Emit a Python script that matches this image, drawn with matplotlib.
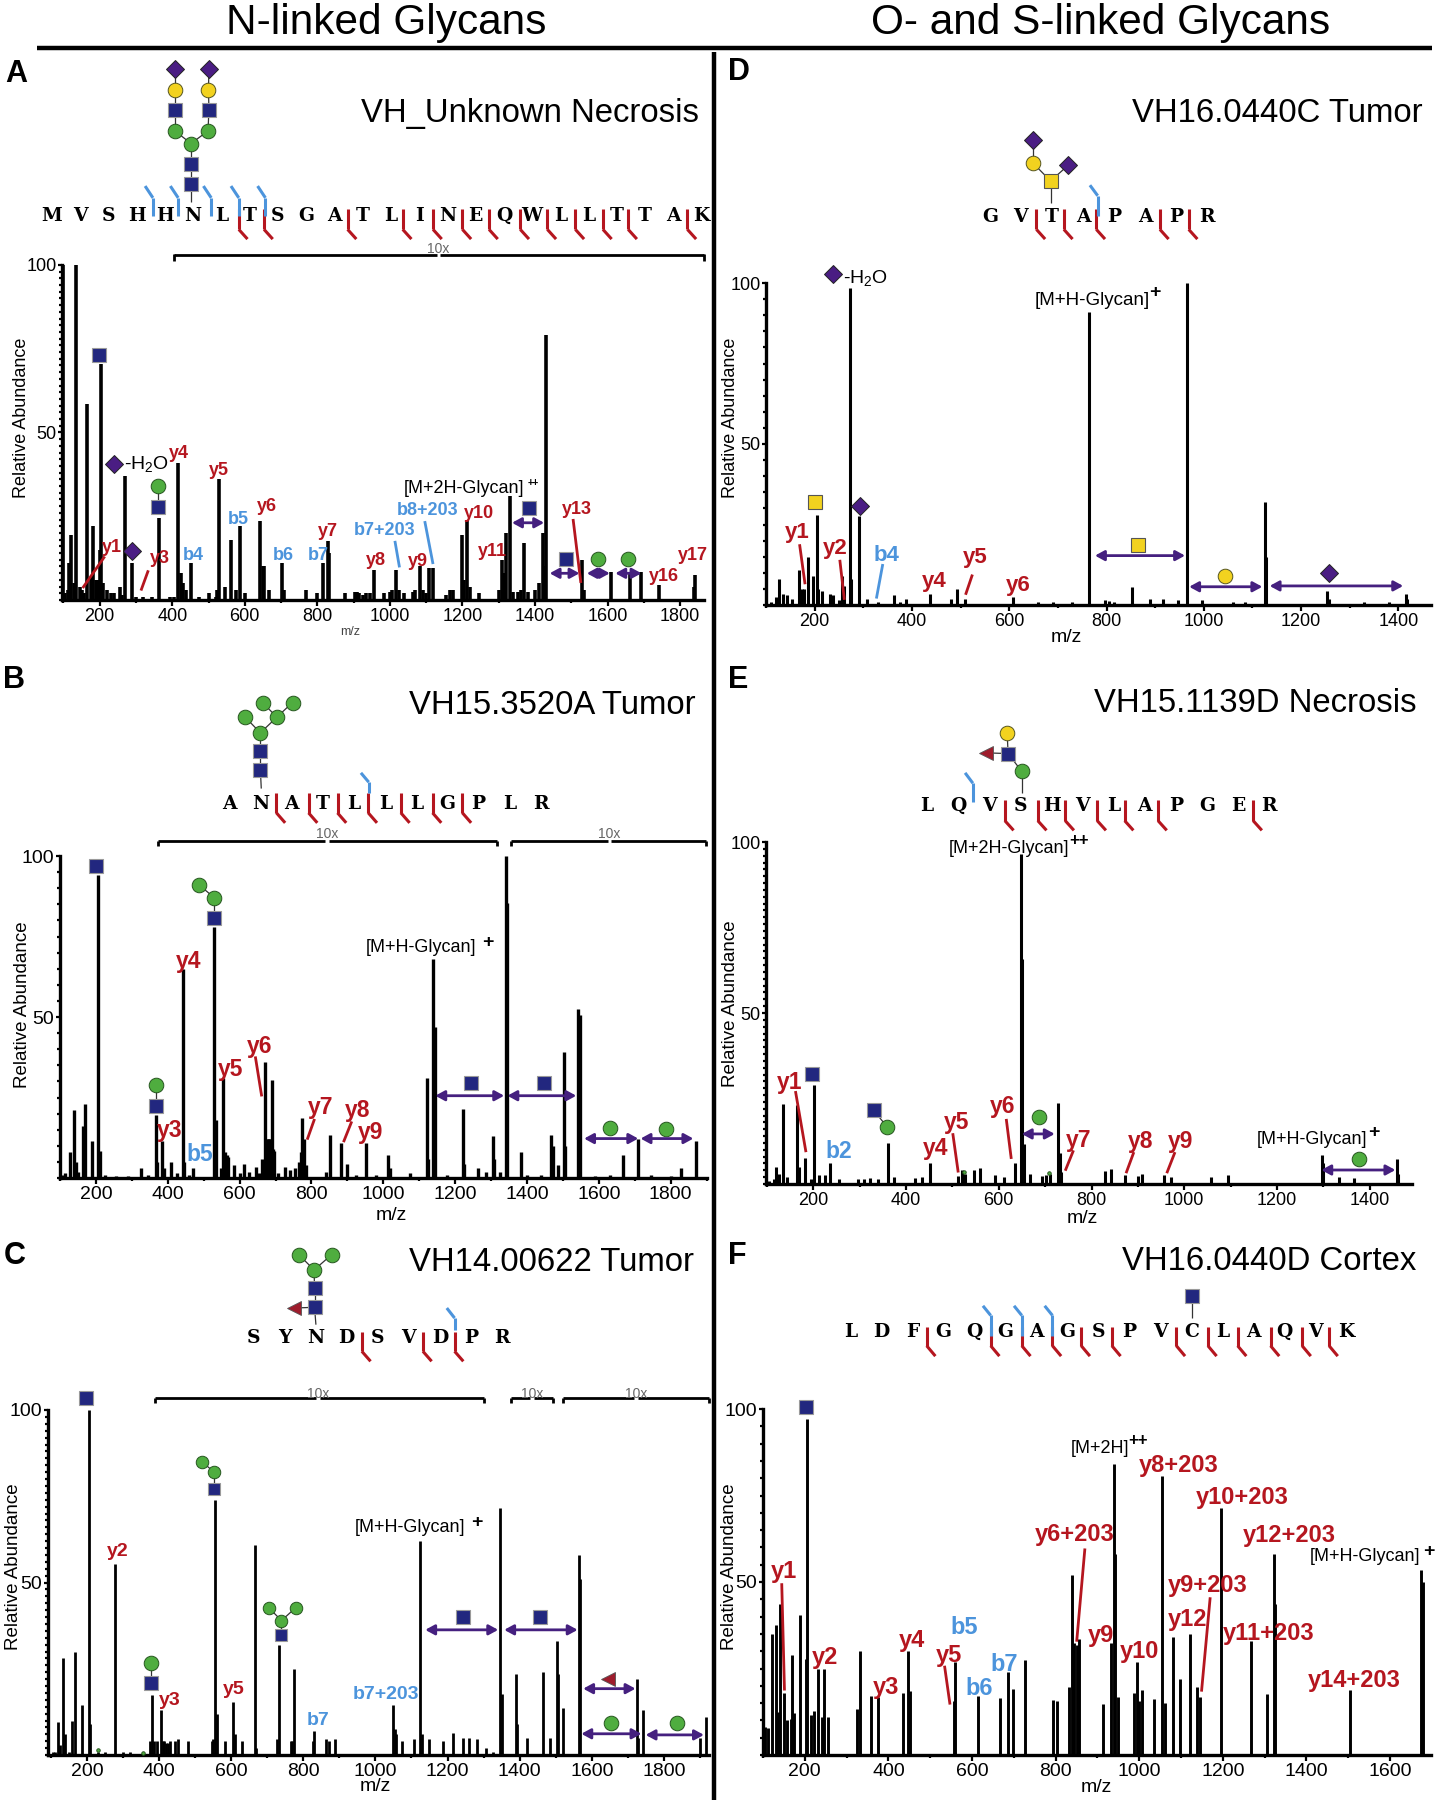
import matplotlib
matplotlib.use('Agg')
import matplotlib.pyplot as plt

plt.rcParams['font.family'] = ['Liberation Sans', 'DejaVu Sans']
plt.rcParams['mathtext.fontset'] = 'custom'
plt.rcParams['mathtext.rm'] = 'Liberation Sans'
plt.rcParams['mathtext.default'] = 'rm'

# peaks: m/z and relative abundance
mz_a = [99, 105, 112, 115, 122, 128, 135, 145, 150, 158, 166, 175, 182, 190, 195, 200, 204, 210, 220, 232, 240, 255, 262, 271, 290,
        300, 320, 345, 363, 395, 405, 417, 423, 430, 437, 453, 475, 500, 520, 524, 529, 545, 562, 575, 587, 600, 643, 650, 654, 668,
        702, 708, 770, 800, 816, 829, 833, 875, 905, 910, 915, 925, 935, 945, 956, 985, 1000, 1005, 1018, 1025, 1040, 1065, 1070,
        1084, 1090, 1100, 1107, 1118, 1155, 1165, 1175, 1199, 1205, 1213, 1220, 1245, 1300, 1310, 1315, 1321, 1330, 1340, 1352, 1362,
        1370, 1380, 1400, 1410, 1422, 1428, 1431, 1530, 1535, 1610, 1661, 1693, 1742, 1842, 1838]
int_a = [100, 2, 3, 11, 19.5, 5, 100, 4, 3, 2, 58.5, 7, 22, 6, 6, 15, 70.5, 5, 3, 2, 2, 4, 1.5, 37, 11,
         1, 1, 1, 24.5, 1, 1, 41, 8, 5, 3, 11, 1, 2, 1, 3, 36, 4, 18, 3, 22, 2, 23.5, 10, 10, 3,
         11, 3, 3, 2, 11, 17.5, 14, 2, 2.5, 2.5, 2, 1.5, 2, 2, 9, 2, 2.5, 3, 9, 3, 2, 2.5, 3,
         10, 3, 2, 9.5, 9.5, 1.5, 3, 3, 19.5, 6, 24, 4, 2, 3, 12, 8, 20, 31, 2.5, 2.5, 3,
         17, 2.5, 3, 5, 20, 10, 79, 12, 3, 8.5, 8.5, 8.5, 4.5, 7.5, 4]

mz_b = [105, 115, 127, 139, 145, 150, 164, 169, 188, 205, 210, 225, 255, 290, 325, 345, 367, 371, 385, 390, 410, 425, 443, 445, 460, 471,
        530, 534, 548, 555, 558, 565, 569, 583, 600, 611, 625, 646, 655, 663, 672, 675, 678, 681, 684, 687, 690, 693, 697, 708, 726, 739,
        755, 765, 770, 774, 777, 780, 785, 840, 852, 882, 900, 925, 953, 980, 1014, 1018, 1075, 1121, 1125, 1138, 1143, 1178, 1221, 1224,
        1264, 1285, 1305, 1308, 1325, 1341, 1345, 1383, 1400, 1440, 1468, 1471, 1486, 1503, 1506, 1543, 1547, 1590, 1630, 1667, 1708, 1745, 1800, 1828, 1869]
int_b = [1, 1.5, 8, 21, 5, 2, 16, 23, 11.5, 94, 8.5, 1, 0.7, 0.5, 3, 1, 19.5, 5, 11.5, 3, 5, 1.5, 65, 5, 1, 3,
         78, 18, 3, 31, 8, 7, 6.5, 4, 1.5, 4.5, 2, 3.5, 1.5, 6, 36, 12, 12, 12, 12, 10, 30.5, 9, 8.5, 1.5, 3.5, 2.5,
         3, 5, 8, 18.5, 10, 12, 4, 2, 13.5, 11, 4.5, 1, 11, 1, 7, 3, 1.5, 31, 6, 68, 47, 1, 21.5, 4.5,
         3, 2, 13, 6, 2, 100, 85.5, 8, 1, 1, 13.5, 10, 4, 39, 10, 52.5, 50.5, 0.5, 0.8, 7, 12, 0.8, 0.5, 3, 11.5]

mz_c = [105, 112, 120, 126, 134, 140, 150, 159, 167, 185, 206, 209, 230, 250, 279, 300, 320, 375, 381, 387, 395, 404, 410, 415, 420, 425, 430, 445, 452, 480,
        546, 550, 556, 560, 582, 605, 610, 629, 666, 670, 728, 732, 765, 770, 774, 828, 831, 864, 872, 887, 1050, 1053, 1056, 1075, 1106, 1124, 1128,
        1148, 1188, 1216, 1244, 1259, 1282, 1307, 1325, 1346, 1350, 1390, 1393, 1421, 1465, 1484, 1504, 1507, 1521, 1565, 1568, 1725, 1729, 1743, 1899, 1918]
int_c = [1, 1, 9.5, 3, 28, 6, 1, 10, 30, 14.5, 100, 9, 1, 0.8, 55.5, 1, 1, 4, 17.5, 4, 4, 13, 4, 4, 3.5, 3.5, 4, 4, 4.5, 4,
         4, 4.5, 74, 12, 4, 15.5, 6, 4, 61, 2, 4.5, 32, 4, 4, 25, 4, 7, 4.5, 4, 4.5, 14.5, 7.5, 6, 4, 4.5, 62, 6,
         4.5, 4, 6.5, 5, 5, 4.5, 2, 1, 71.5, 17.7, 23.5, 9, 5, 24, 5, 33, 23.5, 13.5, 58, 51, 22, 5, 13, 5, 11]

mz_d = [110, 120, 126, 134, 144, 154, 167, 174, 179, 186, 197, 204, 207, 215, 231, 237, 250, 256, 261, 272, 275, 291, 308, 330, 364, 375, 387, 438,
        480, 493, 510, 608, 660, 690, 730, 764, 796, 805, 815, 853, 890, 916, 946, 966, 996, 1060, 1085, 1125, 1128, 1254, 1257, 1330, 1380, 1415, 1418]
int_d = [1, 2.5, 8, 3.5, 3, 2, 11, 5, 5, 15, 9, 28, 5, 4.5, 3.5, 3, 1.5, 9, 6, 98.5, 8, 27.5, 2, 1, 3, 1, 2, 3.5,
         2, 5, 2, 2.5, 1, 1, 1, 91, 1.5, 1.2, 1, 5.5, 2, 2, 1.5, 100, 1.5, 1, 1, 32, 15, 4.5, 2, 1, 1, 3.5, 2]

mz_e = [105, 115, 120, 125, 135, 143, 164, 170, 182, 195, 201, 212, 225, 236, 256, 296, 310, 322, 340, 362, 375, 419, 435, 451, 513, 520, 527, 547, 560,
        592, 611, 636, 647, 650, 654, 668, 693, 702, 710, 728, 731, 735, 829, 841, 873, 900, 908, 957, 971, 1057, 1095, 1297, 1300, 1333, 1366, 1458, 1461]
int_e = [1, 1.5, 5, 3, 23.5, 2, 23, 5, 7.5, 1.5, 29, 2.5, 2.5, 6, 1.5, 1.5, 1.5, 1.8, 1.5, 12, 2, 1.8, 2, 6, 2.3, 4, 2.8, 4, 4.7,
         2.6, 2, 6, 96.5, 65.7, 11.7, 3, 2.2, 2.6, 3, 23.7, 9, 3.5, 3.7, 4.3, 2.7, 2.3, 3, 2.7, 2, 2, 2.7, 8.4, 6, 2, 1.8, 7.2, 3]

mz_f = [105, 113, 122, 131, 137, 141, 150, 158, 166, 170, 175, 188, 202, 205, 215, 222, 231, 240, 247, 256, 324, 333, 358, 375, 434, 446, 451, 557, 560,
        615, 668, 686, 698, 727, 794, 804, 831, 840, 844, 852, 857, 914, 932, 939, 942, 949, 988, 995, 1000, 1007, 1035, 1054, 1062, 1081, 1097, 1121,
        1139, 1145, 1195, 1267, 1305, 1322, 1325, 1505, 1675, 1678]
int_f = [8, 7.7, 35, 37.5, 12.5, 43.6, 18, 10, 10.5, 29, 12, 40.5, 27.7, 97, 11.6, 12.8, 25, 11, 25, 11, 13.3, 30, 17, 16.8, 17.8, 30, 18.6, 15.7, 27,
         17, 16.5, 24, 19, 27.4, 16, 15.5, 19.7, 52, 32.5, 31.7, 33.6, 14.8, 32.5, 84, 58, 16.8, 17.8, 27, 15.5, 18.7, 16.2, 80.6, 15, 34, 22, 35,
         19.6, 16.8, 71.4, 33, 17.5, 58, 43.6, 18.7, 53.4, 50]

peptides = {
    'A': 'MVSHHNLTSGATLINEQWLLTTAK',
    'B': 'ANATLLLGPLR',
    'C': 'SYNDSVDPR',
    'D': 'GVTAPAPR',
    'E': 'LQVSHVLAPGER',
    'F': 'LDFGQGAGSPVCLAQVK',
}
titles = {
    'A': 'VH_Unknown Necrosis',
    'B': 'VH15.3520A Tumor',
    'C': 'VH14.00622 Tumor',
    'D': 'VH16.0440C Tumor',
    'E': 'VH15.1139D Necrosis',
    'F': 'VH16.0440D Cortex',
}

RED = '#b5161f'
BLUE = '#4c94dc'
PURPLE = '#45207f'
NAVY = '#22277f'
GREEN = '#4fad3f'
GOLD = '#f2d21f'
DIAM = '#4a1d83'
FUC = '#9e1c2c'

# crop windows used for reading the layout: x0, y0, w, h (grid 1568 on both sides)
windows = {
    'A': (0, 0, 720, 660),
    'D': (720, 0, 717, 660),
    'B': (0, 660, 720, 560),
    'E': (720, 660, 717, 560),
    'C': (0, 1220, 720, 580),
    'F': (720, 1220, 717, 580),
}


def Z(p, x, y):
    x0, y0, w, h = windows[p]
    return x0 + x * w / 1568, y0 + y * h / 1568


fig = plt.figure(figsize=(14.37, 18), dpi=100)
W, H = 1437, 1800


def spec(mz, ints, left, right, top, bottom, xlim, major, minor_y, lw, tick_fs, xmax_tick):
    ax = fig.add_axes([left / W, 1 - bottom / H, (right - left) / W, (bottom - top) / H])
    ax.vlines(mz, 0, ints, color='k', lw=lw)
    ax.set_xlim(xlim)
    ax.set_ylim(0, 100)
    for s in ['top', 'right']:
        ax.spines[s].set_visible(False)
    ax.spines['left'].set_linewidth(2.4)
    ax.spines['bottom'].set_linewidth(2.4)
    ax.set_xticks(list(range(major, xmax_tick + 1, major)))
    ax.set_xticks(list(range(100, int(xlim[1]), 100)), minor=True)
    ax.set_yticks([50, 100])
    ax.set_yticks(list(range(0, 101, minor_y)), minor=True)
    ax.tick_params(axis='x', which='major', length=4, width=1.6, labelsize=tick_fs, pad=1.5)
    ax.tick_params(axis='y', which='major', length=3, width=1.6, labelsize=tick_fs, pad=1)
    ax.tick_params(axis='both', which='minor', length=2.5, width=1.6)
    ax.patch.set_alpha(0)
    return ax


spec(mz_a, int_a, 62, 704, 265, 600, (96, 1866), 200, 2, 2.6, 13, 1800)
spec(mz_b, int_b, 60, 707, 856, 1178, (100, 1901), 200, 5, 2.4, 14, 1800)
spec(mz_c, int_c, 48, 709, 1410, 1755, (92, 1925), 200, 2, 2.0, 14, 1800)
spec(mz_d, int_d, 766, 1431, 283, 605, (101, 1467), 200, 5, 2.2, 13, 1400)
spec(mz_e, int_e, 766, 1412, 842, 1184, (98, 1491), 200, 2, 2.2, 13, 1400)
spec(mz_f, int_f, 763, 1431, 1409, 1755, (102, 1698), 200, 5, 2.1, 14, 1600)

ov = fig.add_axes([0, 0, 1, 1], zorder=10)
ov.set_xlim(0, W)
ov.set_ylim(H, 0)
ov.axis('off')
ov.patch.set_alpha(0)

# headers and dividers
ov.text(386, 23, 'N-linked Glycans', fontsize=30.5, ha='center', va='center')
ov.text(1101, 23, 'O- and S-linked Glycans', fontsize=30.5, ha='center', va='center')
ov.plot([37, 1432], [48, 48], color='k', lw=3.2, solid_capstyle='butt')
ov.plot([714, 714], [52, 1800], color='k', lw=3.2, solid_capstyle='butt')


def seg(p, x1, y1, x2, y2, color='k', lw=2.0, z=3):
    a = Z(p, x1, y1)
    b = Z(p, x2, y2)
    ov.plot([a[0], b[0]], [a[1], b[1]], color=color, lw=lw, zorder=z, solid_capstyle='butt')


def put(p, s, x, y, color='k', fs=13, bold=False, **kw):
    a = Z(p, x, y)
    ov.text(a[0], a[1] + 1.5, s, color=color, fontsize=fs, ha=kw.pop('ha', 'center'), va='center',
            fontweight='bold' if bold else 'normal', zorder=6, **kw)


def sym(p, kind, x, y, ms=10.5):
    a = Z(p, x, y)
    if kind == 'sq':
        ov.plot(a[0], a[1], 's', ms=ms - 0.5, mfc=NAVY, mec='#9a9a9a', mew=0.8, zorder=5)
    elif kind == 'ysq':
        ov.plot(a[0], a[1], 's', ms=ms - 0.5, mfc=GOLD, mec='#555555', mew=0.8, zorder=5)
    elif kind == 'g':
        ov.plot(a[0], a[1], 'o', ms=ms, mfc=GREEN, mec='#26561f', mew=0.7, zorder=5)
    elif kind == 'y':
        ov.plot(a[0], a[1], 'o', ms=ms, mfc=GOLD, mec='#555520', mew=0.7, zorder=5)
    elif kind == 'd':
        ov.plot(a[0], a[1], 'D', ms=ms - 1.5, mfc=DIAM, mec='#222222', mew=0.7, zorder=5)
    elif kind == 't':
        ov.plot(a[0], a[1], '<', ms=ms, mfc=FUC, mec='#555555', mew=0.6, zorder=5)


def tree(p, nodes, links, ms=10.5):
    for i, j in links:
        seg(p, nodes[i][1], nodes[i][2], nodes[j][1], nodes[j][2], color='#333333', lw=0.9, z=4)
    for k, x, y in nodes:
        sym(p, k, x, y, ms)


def arrow(p, x1, x2, y):
    a = Z(p, x1, y)
    b = Z(p, x2, y)
    ov.annotate('', xy=b, xytext=a, zorder=5,
                arrowprops=dict(arrowstyle='<|-|>,head_width=0.3,head_length=0.55', color=PURPLE, lw=2.0,
                                shrinkA=0, shrinkB=0))


def bracket(p, x1, x2, y, mid, ty):
    seg(p, x1, y, mid - 4, y, lw=2.0)
    seg(p, mid + 4, y, x2, y, lw=2.0)
    seg(p, x1, y - 1, x1, y + 14, lw=2.0)
    seg(p, x2, y - 1, x2, y + 14, lw=2.0)
    put(p, '10x', mid, ty, color='#666666', fs=10)


def sequence(p, first, last, y, red, blue, r_top, r_mid, r_bot, b_top, b_bot, b_kink):
    s = peptides[p]
    step = (last - first) / (len(s) - 1)
    for i, c in enumerate(s):
        put(p, c, first + i * step, y, fs=13.5, bold=True, family='DejaVu Serif')
    for x in red:
        seg(p, x, r_top, x, r_mid, color=RED, lw=2.2)
        seg(p, x, r_mid, x + 19, r_bot, color=RED, lw=2.2)
    for x in blue:
        seg(p, x, b_bot, x, b_kink, color=BLUE, lw=2.2)
        seg(p, x, b_kink, x - 17, b_top, color=BLUE, lw=2.2)


# panel letters and titles
for p, x, y in [('A', 35, 172), ('D', 41, 168), ('B', 30, 52), ('E', 39, 52), ('C', 32, 92), ('F', 37, 92)]:
    put(p, p, x, y, fs=22, bold=True)
for p, x, y in [('A', 1523, 266), ('D', 1536, 266), ('B', 1515, 122), ('E', 1523, 118), ('C', 1512, 110), ('F', 1522, 108)]:
    put(p, titles[p], x, y, fs=23.7, ha='right')

# axis labels
put('A', 'Relative Abundance', 46, 990, fs=13, rotation=90)
put('B', 'Relative Abundance', 50, 960, fs=13.5, rotation=90)
put('C', 'Relative Abundance', 30, 932, fs=13.5, rotation=90)
put('D', 'Relative Abundance', 22, 990, fs=13, rotation=90)
put('E', 'Relative Abundance', 24, 958, fs=13.5, rotation=90)
put('F', 'Relative Abundance', 20, 932, fs=13.5, rotation=90)
put('A', 'm/z', 763, 1497, fs=9, color='#444444')
put('B', 'm/z', 852, 1550, fs=14)
put('C', 'm/z', 817, 1527, fs=14)
put('D', 'm/z', 757, 1510, fs=14)
put('E', 'm/z', 793, 1560, fs=14)
put('F', 'm/z', 822, 1530, fs=14)

# sequences with fragment marks
sequence('A', 113, 1528, 510, [520, 575, 757, 877, 943, 1007, 1065, 1133, 1192, 1253, 1313, 1368, 1497], [333, 388, 460, 520, 578],
         497, 545, 568, 442, 512, 470)
sequence('D', 590, 1065, 513, [692, 752, 823, 962, 1025], [826], 497, 545, 568, 440, 512, 465)
sequence('B', 500, 1178, 398, [602, 672, 735, 802, 873, 942, 1007], [803], 372, 428, 456, 316, 372, 342)
sequence('E', 453, 1201, 405, [623, 695, 755, 825, 885, 958, 1166], [553], 393, 450, 477, 316, 398, 345)
sequence('C', 552, 1093, 316, [788, 921, 990], [990], 303, 355, 382, 238, 297, 265)
sequence('F', 285, 1370, 298, [452, 592, 660, 727, 790, 857, 998, 1067, 1132, 1204, 1273, 1332], [592, 660, 727],
         288, 340, 368, 232, 313, 258)

# 10x brackets
bracket('A', 378, 1533, 605, 955, 587)
bracket('B', 345, 1083, 508, 712, 484)
bracket('B', 1113, 1538, 508, 1327, 484)
bracket('C', 338, 1055, 482, 693, 465)
bracket('C', 1113, 1204, 482, 1158, 465)
bracket('C', 1227, 1545, 482, 1385, 465)

# glycan structures above sequences
tree('A', [('d', 381, 163), ('d', 455, 163), ('y', 381, 213), ('y', 454, 213), ('sq', 381, 262), ('sq', 455, 261),
           ('g', 381, 311), ('g', 453, 311), ('g', 416, 341), ('sq', 416, 390), ('sq', 416, 437)],
     [(0, 2), (2, 4), (4, 6), (1, 3), (3, 5), (5, 7), (6, 8), (7, 8), (8, 9), (9, 10)])
seg('A', 416, 437, 416, 480, color='#333333', lw=0.9, z=4)
tree('D', [('d', 685, 332), ('y', 685, 388), ('d', 762, 392), ('ysq', 723, 430)], [(0, 1), (1, 3), (2, 3)])
seg('D', 723, 430, 723, 483, color='#333333', lw=0.9, z=4)
tree('B', [('g', 573, 121), ('g', 637, 119), ('g', 534, 160), ('g', 603, 160), ('g', 567, 204), ('sq', 567, 254), ('sq', 567, 307)],
     [(0, 3), (1, 3), (2, 4), (3, 4), (4, 5), (5, 6)])
seg('B', 567, 307, 569, 360, color='#333333', lw=0.9, z=4)
tree('E', [('y', 628, 203), ('sq', 630, 262), ('t', 582, 260), ('g', 660, 312)], [(0, 1), (1, 2), (1, 3)])
seg('E', 660, 312, 660, 372, color='#333333', lw=0.9, z=4)
tree('C', [('g', 651, 94), ('g', 722, 94), ('g', 684, 135), ('sq', 685, 185), ('sq', 685, 236), ('t', 640, 238)],
     [(0, 2), (1, 2), (2, 3), (3, 4), (4, 5)])
seg('C', 685, 236, 688, 283, color='#333333', lw=0.9, z=4)
tree('F', [('sq', 1032, 205)], [])
seg('F', 1032, 205, 1032, 265, color='#333333', lw=0.9, z=4)

# glycan fragments on peaks
sym('A', 'sq', 215, 844)
sym('A', 'd', 249, 1102)
tree('A', [('g', 345, 1155), ('sq', 345, 1205)], [(0, 1)])
sym('A', 'd', 288, 1310)
put('A', '-H$_2$O', 318, 1098, fs=14)
put('A', '[M+2H-Glycan]', 1010, 1158, fs=13)
put('A', '++', 1162, 1143, fs=7, bold=True)
for k, x, y, x1, x2, ya in [('sq', 1152, 1208, 1115, 1185, 1242), ('sq', 1232, 1327, 1197, 1262, 1362),
                            ('g', 1302, 1327, 1278, 1328, 1362), ('g', 1367, 1327, 1340, 1397, 1362)]:
    sym('A', k, x, y)
    arrow('A', x1, x2, ya)

sym('D', 'd', 247, 652)
put('D', '-H$_2$O', 318, 657, fs=14)
sym('D', 'ysq', 207, 1192)
sym('D', 'd', 306, 1201)
put('D', '[M+H-Glycan]', 813, 710, fs=13.5)
put('D', '+', 950, 692, fs=14, bold=True)
for k, x, y, x1, x2, ya in [('ysq', 915, 1295, 820, 1017, 1320), ('y', 1104, 1368, 1026, 1186, 1394), ('d', 1332, 1362, 1202, 1494, 1392)]:
    sym('D', k, x, y)
    arrow('D', x1, x2, ya)

sym('B', 'sq', 209, 576)
tree('B', [('g', 433, 629), ('g', 466, 665), ('sq', 466, 722)], [(0, 1), (1, 2)])
tree('B', [('g', 339, 1191), ('sq', 339, 1248)], [(0, 1)])
put('B', '[M+H-Glycan]', 916, 800, fs=13)
put('B', '+', 1063, 787, fs=14, bold=True)
for k, x, y, x1, x2, ya in [('sq', 1026, 1184, 948, 1098, 1220), ('sq', 1184, 1184, 1105, 1255, 1220),
                            ('g', 1328, 1310, 1272, 1390, 1340), ('g', 1450, 1312, 1395, 1510, 1340)]:
    sym('B', k, x, y)
    arrow('B', x1, x2, ya)

sym('E', 'sq', 201, 1158)
tree('E', [('sq', 336, 1261), ('g', 366, 1308)], [(0, 1)])
put('E', '[M+2H-Glycan]', 632, 523, fs=13)
put('E', '++', 786, 500, fs=12, bold=True)
put('E', '[M+H-Glycan]', 1295, 1338, fs=13)
put('E', '+', 1430, 1320, fs=14, bold=True)
for k, x, y, x1, x2, ya in [('g', 697, 1280, 660, 732, 1327), ('g', 1398, 1397, 1315, 1477, 1428)]:
    sym('E', k, x, y)
    arrow('E', x1, x2, ya)
sym('E', 'g', 533, 1433, 2.5)
sym('E', 'g', 719, 1435, 2.5)

sym('C', 'sq', 187, 481)
tree('C', [('g', 440, 654), ('g', 467, 682), ('sq', 467, 727)], [(0, 1), (1, 2)], 9)
tree('C', [('g', 329, 1197), ('sq', 329, 1253)], [(0, 1)])
tree('C', [('g', 586, 1049), ('g', 644, 1048), ('g', 613, 1083), ('sq', 613, 1121)], [(0, 2), (1, 2), (2, 3)], 9)
put('C', '[M+H-Glycan]', 893, 828, fs=13)
put('C', '+', 1038, 813, fs=14, bold=True)
for k, x, y, x1, x2, ya in [('sq', 1008, 1074, 926, 1085, 1108), ('sq', 1177, 1074, 1098, 1258, 1108), ('t', 1325, 1240, 1270, 1384, 1267),
                            ('g', 1331, 1360, 1266, 1397, 1389), ('g', 1474, 1360, 1406, 1533, 1392)]:
    sym('C', k, x, y)
    arrow('C', x1, x2, ya)
sym('C', 'g', 213, 1432, 2.5)
sym('C', 'g', 311, 1440, 2.5)

sym('F', 'sq', 189, 505)
put('F', '[M+2H]', 832, 615, fs=13)
put('F', '++', 915, 592, fs=12, bold=True)
put('F', '[M+H-Glycan]', 1410, 905, fs=13)
put('F', '+', 1550, 893, fs=14, bold=True)

# ion labels: panel, text, x, y, colour
ion_labels = [
    ('A', 'y1', 243, 1298, RED), ('A', 'y3', 348, 1324, RED), ('A', 'y4', 390, 1073, RED), ('A', 'y5', 477, 1115, RED),
    ('A', 'y6', 581, 1200, RED), ('A', 'y7', 715, 1260, RED), ('A', 'y8', 819, 1328, RED), ('A', 'y9', 911, 1330, RED),
    ('A', 'y10', 1043, 1216, RED), ('A', 'y11', 1072, 1306, RED), ('A', 'y13', 1256, 1208, RED), ('A', 'y16', 1446, 1365, RED),
    ('A', 'y17', 1510, 1315, RED), ('A', 'b4', 422, 1317, BLUE), ('A', 'b5', 519, 1230, BLUE), ('A', 'b6', 617, 1317, BLUE),
    ('A', 'b7', 693, 1315, BLUE), ('A', 'b7+203', 837, 1256, BLUE), ('A', 'b8+203', 932, 1210, BLUE),
    ('D', 'y1', 169, 1262, RED), ('D', 'y2', 253, 1300, RED), ('D', 'b4', 364, 1315, BLUE), ('D', 'y4', 469, 1378, RED),
    ('D', 'y5', 558, 1322, RED), ('D', 'y6', 652, 1388, RED),
    ('B', 'y3', 369, 1312, RED), ('B', 'y4', 411, 840, RED), ('B', 'y5', 503, 1142, RED), ('B', 'y6', 566, 1077, RED),
    ('B', 'y7', 699, 1250, RED), ('B', 'y8', 779, 1257, RED), ('B', 'y9', 807, 1318, RED), ('B', 'b5', 435, 1380, BLUE),
    ('E', 'y1', 152, 1180, RED), ('E', 'b2', 259, 1373, BLUE), ('E', 'y4', 471, 1363, RED), ('E', 'y5', 518, 1290, RED),
    ('E', 'y6', 618, 1247, RED), ('E', 'y7', 785, 1340, RED), ('E', 'y8', 920, 1345, RED), ('E', 'y9', 1007, 1345, RED),
    ('C', 'y2', 257, 893, RED), ('C', 'y3', 370, 1294, RED), ('C', 'y5', 510, 1265, RED), ('C', 'b7', 692, 1350, BLUE),
    ('C', 'b7+203', 840, 1279, BLUE),
    ('F', 'y1', 139, 945, RED), ('F', 'y2', 230, 1180, RED), ('F', 'y3', 363, 1260, RED), ('F', 'y4', 420, 1133, RED),
    ('F', 'y5', 501, 1173, RED), ('F', 'b5', 535, 1098, BLUE), ('F', 'b6', 567, 1262, BLUE), ('F', 'b7', 622, 1197, BLUE),
    ('F', 'y6+203', 775, 847, RED), ('F', 'y9', 832, 1120, RED), ('F', 'y10', 917, 1163, RED), ('F', 'y8+203', 1003, 660, RED),
    ('F', 'y9+203', 1067, 983, RED), ('F', 'y12', 1023, 1075, RED), ('F', 'y10+203', 1143, 745, RED), ('F', 'y12+203', 1246, 850, RED),
    ('F', 'y11+203', 1200, 1113, RED), ('F', 'y14+203', 1388, 1240, RED),
]
label_fs = {'A': 13, 'B': 16.5, 'C': 14, 'D': 16, 'E': 16.5, 'F': 17}
label_bold = {'A': True, 'B': True, 'C': True, 'D': True, 'E': True, 'F': True}
for p, s, x, y, c in ion_labels:
    put(p, s, x, y, color=c, fs=label_fs[p], bold=label_bold[p])

# leader lines from labels to peaks
leaders = [
    ('A', 180, 1397, 228, 1322, RED), ('A', 307, 1403, 323, 1355, RED), ('A', 1248, 1233, 1265, 1385, RED),
    ('A', 860, 1285, 870, 1348, BLUE), ('A', 925, 1238, 943, 1340, BLUE),
    ('D', 174, 1293, 186, 1388, RED), ('D', 262, 1330, 272, 1425, RED), ('D', 356, 1340, 342, 1422, BLUE), ('D', 552, 1365, 537, 1413, RED),
    ('B', 556, 1110, 570, 1222, RED), ('B', 685, 1285, 669, 1343, RED), ('B', 766, 1292, 748, 1350, RED),
    ('E', 165, 1207, 188, 1378, RED), ('E', 509, 1325, 521, 1435, RED), ('E', 626, 1285, 637, 1397, RED),
    ('E', 773, 1373, 755, 1430, RED), ('E', 905, 1378, 888, 1437, RED), ('E', 995, 1378, 977, 1437, RED),
    ('F', 135, 982, 141, 1272, RED), ('F', 491, 1205, 503, 1310, RED), ('F', 798, 888, 780, 1140, RED), ('F', 1072, 1020, 1053, 1275, RED),
]
for p, x1, y1, x2, y2, c in leaders:
    seg(p, x1, y1, x2, y2, color=c, lw=2.0, z=4)

fig.savefig('out.png', dpi=100)
